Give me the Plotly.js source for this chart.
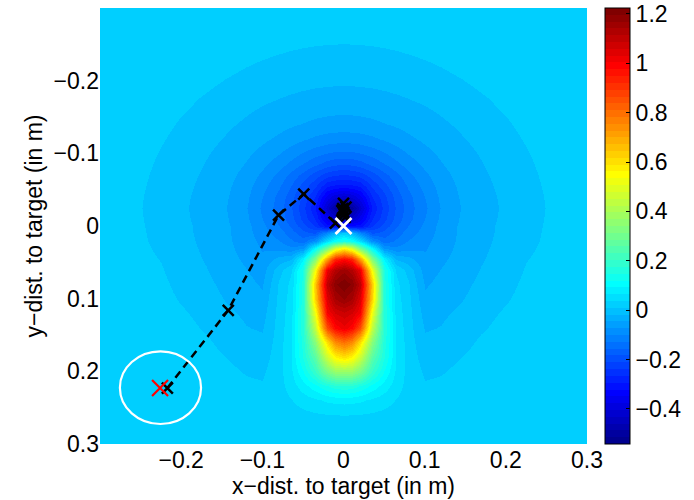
<!DOCTYPE html>
<html>
<head>
<meta charset="utf-8">
<script src="https://cdn.plot.ly/plotly-3.0.1.min.js"></script>
<style>html,body{margin:0;padding:0;background:#fff}#chart{width:694px;height:500px}</style>
</head>
<body>
<div id="chart"></div>
<script>
// grid positions (x >= 0 half; the field is mirror-symmetric about x = 0)
const xHalf = [0, 0.01, 0.02, 0.035, 0.05, 0.065, 0.08, 0.1, 0.12, 0.145, 0.17, 0.2, 0.225, 0.25, 0.3];
const yVals = [-0.3, -0.25, -0.225, -0.2, -0.17, -0.14, -0.12, -0.1, -0.085, -0.07, -0.055, -0.04, -0.025, -0.01, 0,
               0.01, 0.02, 0.03, 0.045, 0.06, 0.08, 0.1, 0.12, 0.14, 0.16, 0.18, 0.2, 0.22, 0.24, 0.26, 0.3];
// field values (one row per yVals entry, columns follow xHalf)
const zHalf = [
  [0.02,0.02,0.02,0.02,0.02,0.02,0.02,0.02,0.02,0.02,0.02,0.02,0.02,0.02,0.02],
  [0.0098,0.0099,0.0102,0.011,0.0122,0.0138,0.0158,0.0191,0.02,0.02,0.02,0.02,0.02,0.02,0.02],
  [-0.0022,-0.0021,-0.0018,-0.0009,0.0004,0.0022,0.0044,0.008,0.0122,0.0186,0.02,0.02,0.02,0.02,0.02],
  [-0.0142,-0.0141,-0.0137,-0.0128,-0.0112,-0.0093,-0.0068,-0.0029,0.0017,0.0084,0.0158,0.02,0.02,0.02,0.02],
  [-0.030,-0.030,-0.0293,-0.0278,-0.0257,-0.023,-0.020,-0.0155,-0.0103,-0.0029,0.0052,0.0158,0.02,0.02,0.02],
  [-0.0566,-0.0561,-0.0548,-0.0513,-0.0464,-0.0414,-0.0361,-0.0288,-0.0218,-0.0134,-0.0042,0.007,0.017,0.02,0.02],
  [-0.088,-0.0873,-0.0848,-0.0784,-0.070,-0.0605,-0.051,-0.0398,-0.0303,-0.0199,-0.0103,0.0017,0.0122,0.02,0.02],
  [-0.1347,-0.1328,-0.1278,-0.1159,-0.1023,-0.0862,-0.0712,-0.0535,-0.0396,-0.0263,-0.0155,-0.0029,0.008,0.0191,0.02],
  [-0.1806,-0.1772,-0.1684,-0.1496,-0.129,-0.108,-0.0882,-0.0652,-0.047,-0.0311,-0.019,-0.0059,0.0052,0.0166,0.02],
  [-0.24,-0.2375,-0.226,-0.197,-0.1656,-0.1365,-0.1088,-0.0787,-0.0548,-0.0355,-0.022,-0.0085,0.0029,0.0144,0.02],
  [-0.305,-0.3,-0.29,-0.233,-0.195,-0.156,-0.1245,-0.0905,-0.0615,-0.0396,-0.0247,-0.0106,0.001,0.0127,0.02],
  [-0.42,-0.40,-0.36,-0.268,-0.22,-0.173,-0.137,-0.1,-0.0667,-0.0426,-0.0268,-0.0123,-0.0012,0.0113,0.02],
  [-0.54,-0.5,-0.42,-0.29,-0.23,-0.18,-0.142,-0.105,-0.071,-0.0446,-0.0282,-0.0134,-0.0015,0.0104,0.02],
  [-0.43,-0.41,-0.36,-0.268,-0.22,-0.173,-0.137,-0.1,-0.0667,-0.0426,-0.0268,-0.0123,-0.0012,0.0113,0.02],
  [-0.31,-0.31,-0.31,-0.24,-0.2,-0.16,-0.128,-0.093,-0.0635,-0.0407,-0.0255,-0.0112,0.0,0.0122,0.02],
  [0.02,-0.015,-0.095,-0.186,-0.173,-0.1425,-0.114,-0.087,-0.0625,-0.0402,-0.0252,-0.0108,0.002,0.0125,0.02],
  [0.15,0.12,0.05,-0.085,-0.145,-0.123,-0.099,-0.08,-0.0598,-0.0392,-0.0238,-0.0098,0.004,0.013,0.02],
  [0.56,0.47,0.3,0.1,-0.08,-0.095,-0.083,-0.076,-0.0562,-0.038,-0.0222,-0.0086,0.006,0.014,0.02],
  [0.98,0.93,0.72,0.33,0.09,-0.02,-0.035,-0.066,-0.05,-0.0355,-0.0198,-0.0064,0.009,0.0155,0.02],
  [1.16,1.12,1.02,0.53,0.15,0.035,0.0,-0.058,-0.0443,-0.032,-0.0165,-0.0035,0.012,0.017,0.02],
  [1.22,1.19,1.1,0.64,0.16,0.045,0.014,-0.049,-0.0365,-0.0265,-0.0105,0.0015,0.016,0.019,0.02],
  [1.17,1.14,1.05,0.62,0.165,0.05,0.018,-0.038,-0.0288,-0.0197,-0.0045,0.0075,0.019,0.02,0.02],
  [1.08,1.06,1.0,0.52,0.17,0.055,0.02,-0.029,-0.0226,-0.0123,0.0015,0.0135,0.02,0.02,0.02],
  [1.02,0.98,0.86,0.44,0.17,0.06,0.022,-0.0205,-0.0165,-0.0048,0.0072,0.018,0.02,0.02,0.02],
  [0.8,0.75,0.6,0.34,0.16,0.065,0.024,-0.0115,-0.0075,0.0025,0.0135,0.02,0.02,0.02,0.02],
  [0.6,0.56,0.46,0.26,0.15,0.065,0.026,-0.003,0.0005,0.0095,0.018,0.02,0.02,0.02,0.02],
  [0.38,0.37,0.32,0.2,0.12,0.06,0.028,0.0055,0.0078,0.016,0.02,0.02,0.02,0.02,0.02],
  [0.17,0.165,0.145,0.11,0.08,0.05,0.027,0.0125,0.0145,0.02,0.02,0.02,0.02,0.02,0.02],
  [0.075,0.073,0.07,0.06,0.05,0.036,0.024,0.0175,0.019,0.02,0.02,0.02,0.02,0.02,0.02],
  [0.038,0.037,0.036,0.033,0.029,0.025,0.021,0.0195,0.02,0.02,0.02,0.02,0.02,0.02,0.02],
  [0.02,0.02,0.02,0.02,0.02,0.02,0.02,0.02,0.02,0.02,0.02,0.02,0.02,0.02,0.02]
];
const zMin = -0.542, zMax = 1.224;

// trajectory (black dashed line with x markers)
const pathX = [-0.217, -0.142, -0.080, -0.049, -0.010, 0.000, 0.003, -0.002, 0.001, 0.002, -0.001, 0.000];
const pathY = [0.223, 0.116, -0.015, -0.044, -0.004, -0.031, -0.026, -0.021, -0.016, -0.012, -0.024, -0.019];
// start (red x) and target (white x)
const startX = [-0.226], startY = [0.223];
const targetX = [0], targetY = [0];
// white circle around the start
const circleCenterX = -0.2255, circleCenterY = 0.2225, circleRadius = 0.05;

const axisTicks = [-0.2, -0.1, 0, 0.1, 0.2, 0.3];
const axisTickText = ['\u22120.2', '\u22120.1', '0', '0.1', '0.2', '0.3'];
const cbTicks = [-0.4, -0.2, 0, 0.2, 0.4, 0.6, 0.8, 1, 1.2];
const cbTickText = ['\u22120.4', '\u22120.2', '0', '0.2', '0.4', '0.6', '0.8', '1', '1.2'];

// full symmetric table
const xFull = xHalf.slice(1).map(v => -v).reverse().concat(xHalf);
const zFull = zHalf.map(row => row.slice(1).reverse().concat(row));

// 64-step jet colormap (MATLAB style)
function jet64(i) { // i = 1..64
  const r = i < 25 ? 0 : i <= 40 ? (i - 24) / 16 : i <= 56 ? 1 : (72 - i) / 16;
  const g = i < 9 ? 0 : i <= 24 ? (i - 8) / 16 : i <= 40 ? 1 : i <= 55 ? (56 - i) / 16 : 0;
  const b = i <= 8 ? (i + 8) / 16 : i <= 24 ? 1 : i <= 39 ? 1 - (i - 24) / 16 : 0;
  return 'rgb(' + Math.round(r * 255) + ',' + Math.round(g * 255) + ',' + Math.round(b * 255) + ')';
}
const jetScale = [];
for (let i = 1; i <= 64; i++) {
  const c = jet64(i);
  jetScale.push([(i - 1) / 64, c]);
  jetScale.push([i / 64, c]);
}

const FONT = 'Liberation Sans, Arial, Helvetica, sans-serif';

const traces = [
  {
    type: 'heatmap', x: xFull, y: yVals, z: zFull,
    zsmooth: 'best', colorscale: jetScale, zmin: zMin, zmax: zMax,
    hoverinfo: 'skip',
    colorbar: {
      x: 1.0368, xanchor: 'left', xpad: 0, ypad: 0,
      y: 0.5, yanchor: 'middle', len: 1, lenmode: 'fraction',
      thickness: 25, thicknessmode: 'pixels',
      outlinewidth: 1, outlinecolor: '#000',
      tickmode: 'array', tickvals: cbTicks, ticktext: cbTickText,
      ticks: 'inside', ticklen: 4, tickcolor: '#000', tickwidth: 1,
      tickfont: {family: FONT, size: 23, color: '#000'}
    }
  },
  {
    type: 'scatter', mode: 'lines+markers', x: pathX, y: pathY,
    line: {color: '#000', width: 2.5, dash: '8px,5px'},
    marker: {symbol: 'x-thin-open', size: 11, color: '#000', line: {color: '#000', width: 2.5}},
    hoverinfo: 'skip'
  },
  {
    type: 'scatter', mode: 'markers', x: targetX, y: targetY,
    marker: {symbol: 'x-thin-open', size: 16, color: '#fff', line: {color: '#fff', width: 2.8}},
    hoverinfo: 'skip'
  },
  {
    type: 'scatter', mode: 'markers', x: startX, y: startY,
    marker: {symbol: 'x-thin-open', size: 16, color: '#ff0000', line: {color: '#ff0000', width: 2.2}},
    hoverinfo: 'skip'
  }
];

const layout = {
  width: 694, height: 500,
  margin: {l: 100, r: 105, t: 8, b: 56, pad: 0},
  paper_bgcolor: '#fff', plot_bgcolor: '#fff',
  font: {family: FONT, size: 23, color: '#000'},
  showlegend: false,
  xaxis: {
    range: [-0.3, 0.3], tickmode: 'array', tickvals: axisTicks, ticktext: axisTickText,
    ticks: '', showgrid: false, zeroline: false, showline: false, automargin: false,
    tickfont: {family: FONT, size: 23, color: '#000'},
    title: {text: 'x\u2212dist. to target (in m)', font: {family: FONT, size: 23, color: '#000'}, standoff: 0}
  },
  yaxis: {
    range: [0.3, -0.3], tickmode: 'array', tickvals: axisTicks, ticktext: axisTickText,
    ticks: '', showgrid: false, zeroline: false, showline: false, automargin: false,
    tickfont: {family: FONT, size: 23, color: '#000'},
    title: {text: 'y\u2212dist. to target (in m)', font: {family: FONT, size: 23, color: '#000'}, standoff: 4}
  },
  shapes: [{
    type: 'circle', xref: 'x', yref: 'y',
    x0: circleCenterX - circleRadius, x1: circleCenterX + circleRadius,
    y0: circleCenterY - circleRadius, y1: circleCenterY + circleRadius,
    line: {color: '#fff', width: 2.2}
  }]
};

Plotly.newPlot('chart', traces, layout, {displayModeBar: false, staticPlot: true});
</script>
</body>
</html>
